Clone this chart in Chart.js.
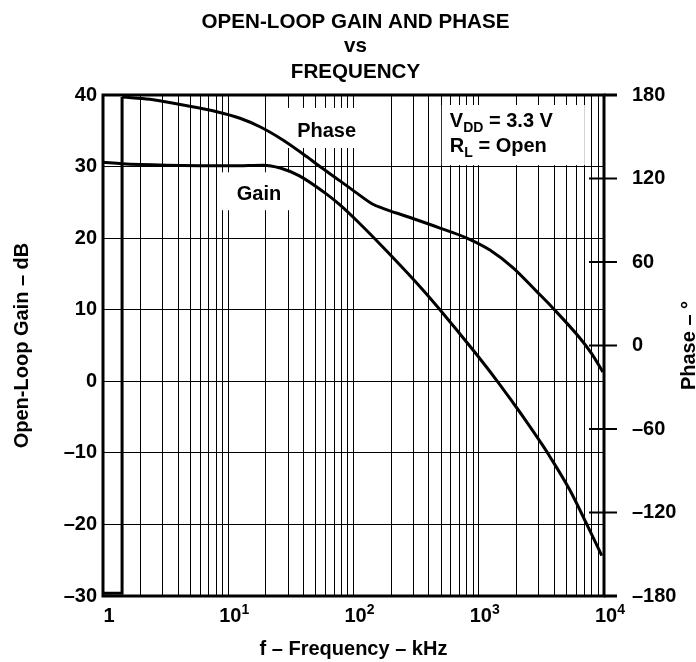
<!DOCTYPE html>
<html>
<head>
<meta charset="utf-8">
<script src="https://cdn.jsdelivr.net/npm/chart.js@4.4.1/dist/chart.umd.min.js"></script>
<style>
  html, body { margin: 0; padding: 0; background: #fff; }
  #wrap { width: 696px; height: 662px; }
</style>
</head>
<body>
<div id="wrap"><canvas id="chartGain"></canvas></div>
<script>
// valores
const gainFreq = [1, 1.42, 3.2, 11, 19, 26, 37, 61, 78, 112, 184, 357, 490, 897, 1394, 1870, 2248, 3250, 3690, 5335, 7295, 9600];
const gainDb   = [30.6, 30.4, 30.2, 30.1, 30.2, 29.8, 28.7, 26.15, 24.65, 22.05, 18.2, 12.8, 10.0, 4.4, 0.1, -2.95, -4.9, -9.0, -10.5, -15.2, -20, -24.35];

// los 3 primeros puntos son el salto de fase (-180 -> 180)
const phaseFreq = [1, 1.42, 1.42, 2.37, 4.35, 8.1, 12.4, 17.9, 27.3, 42.5, 51, 78, 106.4, 142.8, 171.6, 266.8, 490, 803.6, 1227, 1871, 2911, 3899, 6412, 7995, 9791];
const phaseDeg  = [-178, -178, 178.6, 176.9, 172.8, 168, 163.3, 157.2, 147.7, 135.6, 130.2, 118.3, 109.5, 101.5, 98.6, 92.7, 84.4, 77.2, 68.6, 56.0, 38.7, 27.0, 5.4, -6, -19];

const freqTicks = [];
[1, 10, 100, 1000].forEach(d => {
    for (let m = 1; m <= 9; m++) freqTicks.push(m * d);
});
freqTicks.push(10000);

const decadeValues = [1, 10, 100, 1000, 10000];
const decadeExp = ['', '1', '2', '3', '4'];
const phaseMarks = [120, 60, 0, -60, -120];

const FONT = '"Liberation Sans", Arial, sans-serif';
const bold = px => 'bold ' + px + 'px ' + FONT;
const dash = v => (v < 0 ? '\u2013' + Math.abs(v) : String(v));
const toPoints = (xs, ys) => xs.map((f, i) => ({ x: f, y: ys[i] }));

// Texto y decoraciones dibujadas sobre el canvas
const decor = {
    id: 'decor',
    beforeDatasetsDraw(chart) {
        const { ctx, scales: { x, y } } = chart;
        ctx.save();
        ctx.fillStyle = '#fff';
        const box = (f1, f2, g1, g2) => {
            const x1 = x.getPixelForValue(f1), x2 = x.getPixelForValue(f2);
            const y1 = y.getPixelForValue(g1), y2 = y.getPixelForValue(g2);
            ctx.fillRect(x1, y1, x2 - x1, y2 - y1);
        };
        box(28.4, 117, 38.2, 32.6);   // Phase
        box(8.7, 33.4, 29.2, 23.9);   // Gain
        box(507, 7030, 38.6, 30.2);   // VDD
        ctx.restore();
    },
    afterDatasetsDraw(chart) {
        const { ctx, chartArea: a, scales: { y2 } } = chart;
        ctx.save();
        ctx.strokeStyle = '#000';
        ctx.lineWidth = 3;
        ctx.strokeRect(a.left, a.top, a.right - a.left, a.bottom - a.top);
        ctx.beginPath();
        ctx.moveTo(a.right, a.top); ctx.lineTo(a.right + 13, a.top);
        ctx.moveTo(a.right, a.bottom); ctx.lineTo(a.right + 13, a.bottom);
        ctx.stroke();
        ctx.lineWidth = 2;
        ctx.beginPath();
        phaseMarks.forEach(v => {
            const py = y2.getPixelForValue(v);
            ctx.moveTo(a.right - 15, py);
            ctx.lineTo(a.right + 13, py);
        });
        ctx.stroke();
        ctx.restore();
    },
    afterDraw(chart) {
        const { ctx, chartArea: a, scales: { x, y } } = chart;
        ctx.save();
        ctx.fillStyle = '#000';
        ctx.textBaseline = 'alphabetic';

        // titulo
        ctx.textAlign = 'center';
        ctx.font = bold(20.6);
        const cx = (a.left + a.right) / 2 + 2;
        ctx.fillText('OPEN-LOOP GAIN AND PHASE', cx, 28);
        ctx.fillText('vs', cx, 52);
        ctx.fillText('FREQUENCY', cx, 78);

        // etiquetas del eje x
        decadeValues.forEach((v, i) => {
            const px = x.getPixelForValue(v) + 6;
            ctx.font = bold(20);
            const base = decadeExp[i] ? '10' : '1';
            const wb = ctx.measureText(base).width;
            ctx.font = bold(14);
            const we = decadeExp[i] ? ctx.measureText(decadeExp[i]).width : 0;
            const x0 = px - (wb + we) / 2;
            ctx.textAlign = 'left';
            ctx.font = bold(20);
            ctx.fillText(base, x0, 622);
            if (decadeExp[i]) {
                ctx.font = bold(14);
                ctx.fillText(decadeExp[i], x0 + wb, 614);
            }
        });

        ctx.textAlign = 'center';
        ctx.font = bold(20);
        ctx.fillText('f \u2013 Frequency \u2013 kHz', cx - 2, 655);

        // titulo eje derecho
        ctx.save();
        ctx.translate(695, (a.top + a.bottom) / 2);
        ctx.rotate(-Math.PI / 2);
        ctx.fillText('Phase \u2013 \u00b0', 0, 0);
        ctx.restore();

        // anotaciones
        ctx.fillText('Phase', x.getPixelForValue(61), y.getPixelForValue(34.1));
        ctx.textAlign = 'left';
        ctx.fillText('Gain', x.getPixelForValue(11.7), y.getPixelForValue(25.3));

        const sub = (main, s, px, py) => {
            ctx.font = bold(20);
            ctx.fillText(main, px, py);
            const w = ctx.measureText(main).width;
            ctx.font = bold(14);
            ctx.fillText(s, px + w, py + 5);
            return px + w + ctx.measureText(s).width;
        };
        const vx = x.getPixelForValue(588);
        let nx = sub('V', 'DD', vx, y.getPixelForValue(35.5));
        ctx.font = bold(20);
        ctx.fillText(' = 3.3 V', nx, y.getPixelForValue(35.5));
        nx = sub('R', 'L', vx, y.getPixelForValue(32.0));
        ctx.font = bold(20);
        ctx.fillText(' = Open', nx, y.getPixelForValue(32.0));
        ctx.restore();
    }
};

const lineStyle = {
    borderColor: '#000',
    borderWidth: 3,
    pointRadius: 0,
    fill: false
};

const ctx = document.getElementById('chartGain');
const chartGain = new Chart(ctx, {
    type: 'line',
    data: {
        datasets: [
            {
                ...lineStyle,
                label: 'Gain',
                data: toPoints(gainFreq, gainDb),
                yAxisID: 'y',
                cubicInterpolationMode: 'monotone'
            },
            {
                ...lineStyle,
                label: 'Phase wrap',
                data: toPoints(phaseFreq.slice(0, 3), phaseDeg.slice(0, 3)),
                yAxisID: 'y2',
                tension: 0
            },
            {
                ...lineStyle,
                label: 'Phase',
                data: toPoints(phaseFreq.slice(2), phaseDeg.slice(2)),
                yAxisID: 'y2',
                cubicInterpolationMode: 'monotone'
            }
        ]
    },
    options: {
        responsive: true,
        maintainAspectRatio: false,
        animation: false,
        devicePixelRatio: 1,
        layout: { padding: { top: 95, left: 0, right: 0, bottom: 0 } },
        plugins: {
            legend: { display: false },
            tooltip: { enabled: false }
        },
        scales: {
            x: {
                type: 'logarithmic',
                min: 1,
                max: 10000,
                afterBuildTicks: s => { s.ticks = freqTicks.map(v => ({ value: v })); },
                afterFit: s => { s.height = 66; },
                ticks: { display: false },
                grid: { color: '#000', lineWidth: 1, drawTicks: false },
                border: { display: false }
            },
            y: {
                position: 'left',
                min: -30,
                max: 40,
                afterFit: s => { s.width = 103; },
                ticks: {
                    stepSize: 10,
                    padding: 6,
                    color: '#000',
                    font: { family: FONT, size: 20, weight: 'bold' },
                    callback: v => dash(v)
                },
                grid: { color: '#000', lineWidth: 1, drawTicks: false },
                border: { display: false },
                title: {
                    display: true,
                    text: 'Open-Loop Gain \u2013 dB',
                    color: '#000',
                    font: { family: FONT, size: 20, weight: 'bold' },
                    padding: { top: 10, bottom: 0 }
                }
            },
            y2: {
                position: 'right',
                min: -180,
                max: 180,
                afterFit: s => { s.width = 92; },
                ticks: {
                    stepSize: 60,
                    padding: 28,
                    color: '#000',
                    font: { family: FONT, size: 20, weight: 'bold' },
                    callback: v => dash(v)
                },
                grid: { drawOnChartArea: false, drawTicks: false },
                border: { display: false }
            }
        }
    },
    plugins: [decor]
});
</script>
</body>
</html>
